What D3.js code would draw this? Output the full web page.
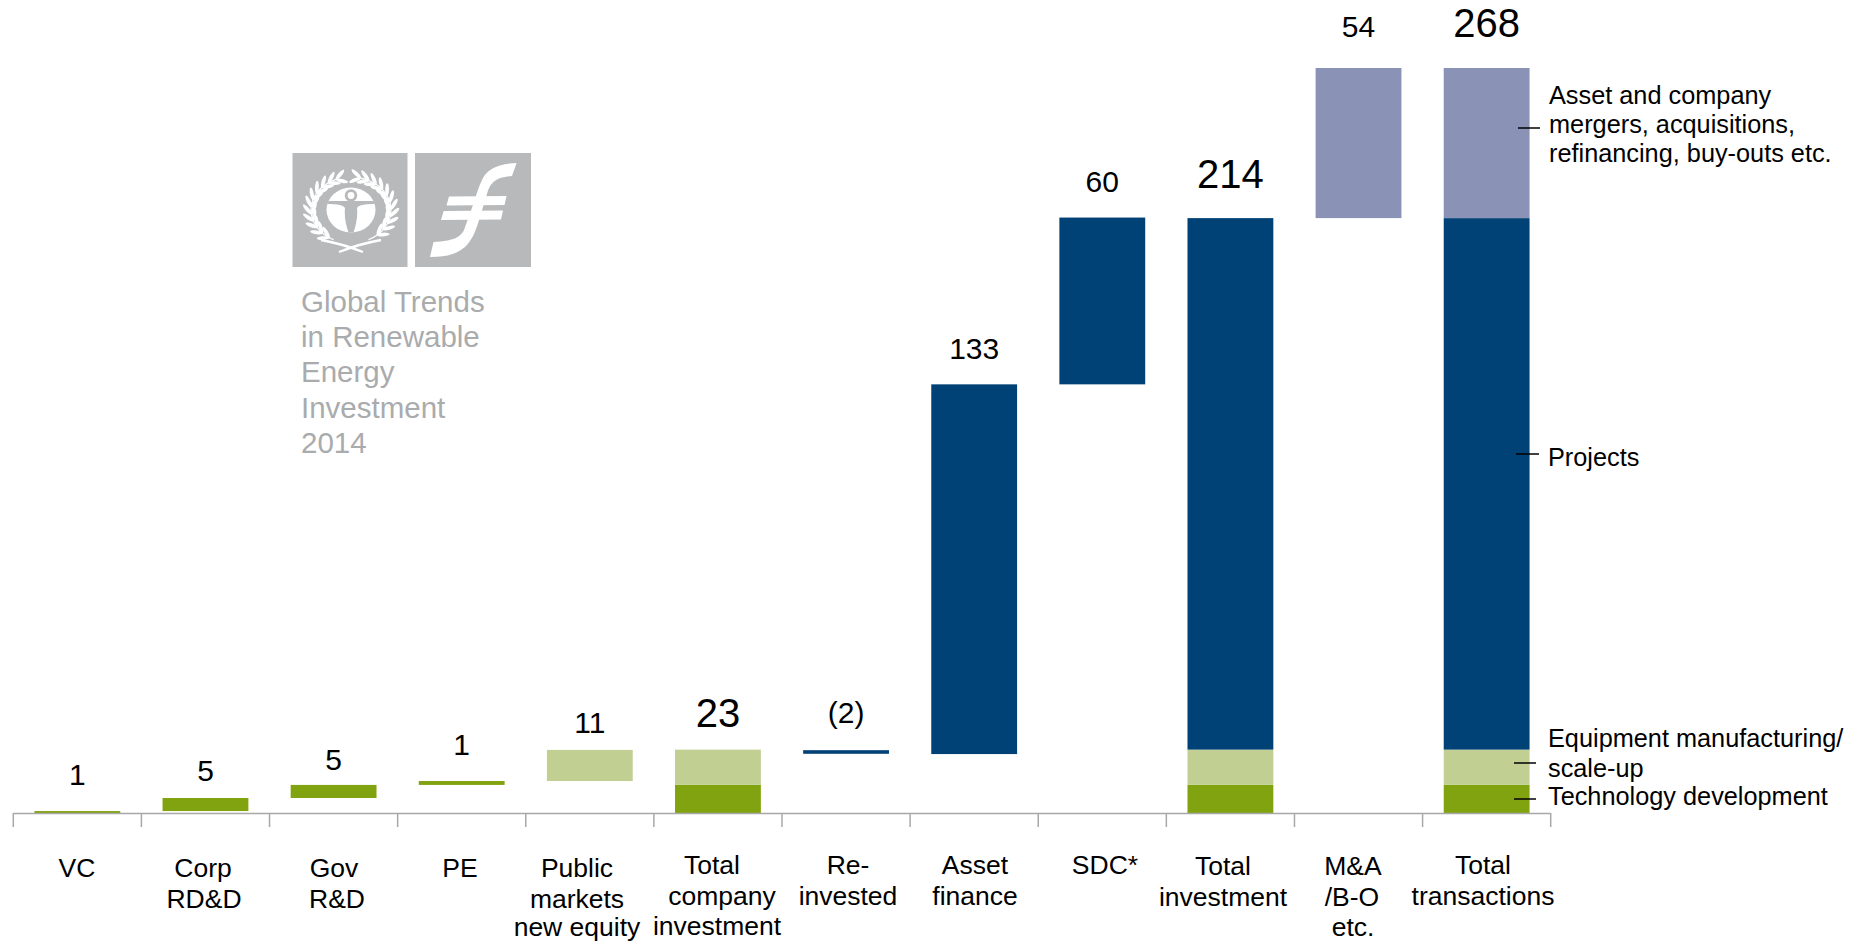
<!DOCTYPE html>
<html><head><meta charset="utf-8">
<script src="https://cdn.jsdelivr.net/npm/d3@7"></script>
<style>html,body{margin:0;padding:0;background:#fff;overflow:hidden}svg{display:block}text{font-family:"Liberation Sans",Arial,sans-serif;fill:#000}</style>
</head><body><svg id="c" width="1864" height="942"></svg>
<script>
const categories=["VC","Corp\nRD&D","Gov\nR&D","PE","Public\nmarkets\nnew equity","Total\ncompany\ninvestment","Re-\ninvested","Asset\nfinance","SDC*","Total\ninvestment","M&A\n/B-O\netc.","Total\ntransactions"];
const valueLabels=["1","5","5","1","11","23","(2)","133","60","214","54","268"];
const base=[0,0.7,5.4,10.1,11.5,0,21.3,21.2,154.2,0,214,0];
const techDev=[0.7,4.7,4.7,1.4,0,10.2,0,0,0,10.2,0,10.2];
const equipMfg=[0,0,0,0,11.2,12.6,0,0,0,12.6,0,12.6];
const projects=[0,0,0,0,0,0,1.3,133,60,191.2,0,191.2];
const mergers=[0,0,0,0,0,0,0,0,0,0,54,54];
const seriesNames=["base","tech","equip","proj","ma"];
const seriesColors={tech:"#82A310",equip:"#C2CF92",proj:"#004276",ma:"#8A93B5"};
const logoLines=["Global Trends","in Renewable","Energy","Investment","2014"];

// layout (pixels), separate from the data
const labelBaselines=[785,781,770,755,733,727,723,359,192,188,37,37];
const labelBig=[5,9,11];
const catLabelLayout=[
 {y:877,x:[77]},{y:877,x:[203,204]},{y:877,x:[334,337]},{y:877,x:[460]},
 {y:877,x:[577,577,577],third:936},{y:874,x:[712,722,717],third:935},{y:874,x:[848,848]},{y:874,x:[975,975]},
 {y:874,x:[1105]},{y:875,x:[1223,1223]},{y:875,x:[1353,1352,1353],third:936},{y:874,x:[1483,1483]}];
const notes=[
 {lines:["Asset and company","mergers, acquisitions,","refinancing, buy-outs etc."],x:1549,y:104,dy:29.2,lx:[1518,1540],ly:128},
 {lines:["Projects"],x:1548,y:466,dy:29,lx:[1516,1539],ly:454},
 {lines:["Equipment manufacturing/","scale-up"],x:1548,y:747,dy:30,lx:[1514,1536],ly:763},
 {lines:["Technology development"],x:1548,y:805,dy:29,lx:[1514,1536],ly:799}
];

const svg=d3.select("#c");
const x=d3.scaleBand().domain(d3.range(categories.length)).range([13.3,1550.7]).paddingInner(0.33).paddingOuter(0.165);
const y=d3.scaleLinear().domain([0,268]).range([813,68]);
const rows=categories.map((c,i)=>({i,base:base[i],tech:techDev[i],equip:equipMfg[i],proj:projects[i],ma:mergers[i]}));
const stacked=d3.stack().keys(seriesNames)(rows);
stacked.filter(s=>s.key!=="base").forEach(s=>{
  svg.append("g").selectAll("rect").data(s.filter(d=>d[1]>d[0])).join("rect")
    .attr("x",d=>x(d.data.i)).attr("width",x.bandwidth())
    .attr("y",d=>y(d[1])).attr("height",d=>y(d[0])-y(d[1])).attr("fill",seriesColors[s.key]);
});
// axis
const axisLine=svg.append("g").attr("stroke","#A8A8A8").attr("stroke-width",1.5);
axisLine.append("line").attr("x1",13.3).attr("x2",1550.7).attr("y1",813.5).attr("y2",813.5);
const step=x.step();
d3.range(categories.length+1).forEach(i=>{
  const tx=13.3+i*step;
  axisLine.append("line").attr("x1",tx).attr("x2",tx).attr("y1",813).attr("y2",827);
});
// value labels
valueLabels.forEach((t,i)=>{
  svg.append("text").attr("x",x(i)+x.bandwidth()/2).attr("y",labelBaselines[i]).attr("text-anchor","middle")
   .attr("font-size",labelBig.includes(i)?40:30).text(t);
});
// category labels
categories.forEach((c,i)=>{
  const t=svg.append("text").attr("text-anchor","middle").attr("font-size",26.5);
  const L=catLabelLayout[i];
  c.split("\n").forEach((l,k)=>t.append("tspan").attr("x",L.x[k]).attr("y",k===2?L.third:L.y+k*30.7).text(l));
});
// annotations
notes.forEach(n=>{
  svg.append("line").attr("x1",n.lx[0]).attr("x2",n.lx[1]).attr("y1",n.ly).attr("y2",n.ly).attr("stroke","#000").attr("stroke-width",1.5);
  const t=svg.append("text").attr("font-size",25.3);
  n.lines.forEach((l,k)=>t.append("tspan").attr("x",n.x).attr("y",n.y+k*n.dy).text(l));
});
// logo text
const lt=svg.append("text").attr("font-size",29.5).style("fill","#A9ABAD");
logoLines.forEach((l,k)=>lt.append("tspan").attr("x",301).attr("y",311.5+k*35.4).text(l));
// logo squares
const logoGrey="#B7B9BB";
svg.append("rect").attr("x",292.5).attr("y",153).attr("width",115).attr("height",114).attr("fill",logoGrey);
svg.append("rect").attr("x",415).attr("y",153).attr("width",116).attr("height",114).attr("fill",logoGrey);
// emblem
const em=svg.append("g").attr("transform","translate(351,210)");
em.append("clipPath").attr("id","disc").append("ellipse").attr("rx",24.5).attr("ry",22.5);
em.append("ellipse").attr("rx",24.5).attr("ry",22.5).attr("fill","#fff");
const fig=em.append("g").attr("clip-path","url(#disc)").attr("fill",logoGrey);
fig.append("circle").attr("cy",-14.5).attr("r",6.2);
fig.append("circle").attr("cy",-14.5).attr("r",3.4).attr("fill","#fff");
fig.append("path").attr("d","M-26,-9 L26,-9 L26,-6 C12,-6 8,-5 6,-2 C7,6 5,16 2,24 L-2,24 C-5,16 -7,6 -6,-2 C-8,-5 -12,-6 -26,-6 Z");
// wreath: stem with paired leaves
const rx=40,ry=33;
[-1,1].forEach(side=>{
  const start=side<0?22:14;
  const stemPts=d3.range(start,158,4).map(a=>{const r=a*Math.PI/180;return [side*rx*Math.sin(r),-ry*Math.cos(r)];});
  em.append("path").attr("d",d3.line()(stemPts)).attr("fill","none").attr("stroke","#fff").attr("stroke-width",1.2);
  d3.range(start,150,12.5).forEach(a=>{
    const r=a*Math.PI/180;
    const px=side*rx*Math.sin(r),py=-ry*Math.cos(r);
    const tan=Math.atan2(ry*Math.sin(r),side*rx*Math.cos(r))*180/Math.PI;
    [-32,32].forEach(off=>{
      em.append("ellipse").attr("cx",0).attr("cy",0).attr("rx",6.4).attr("ry",1.9).attr("fill","#fff")
        .attr("transform",`translate(${px},${py}) rotate(${tan+180+off}) translate(6,0)`);
    });
  });
});
em.append("path").attr("d","M-30,30 Q-8,34 12,42 M30,30 Q8,34 -12,42").attr("stroke","#fff").attr("stroke-width",2.4).attr("fill","none");
// franc glyph
const fg=svg.append("g").attr("fill","#fff");
fg.append("path").attr("d","M516.6,163 C498,164 487,169 482,180 C478,188 476,196 473,205 L464,230 C460,238 452,241 433.5,242 L430,257 C447,257 458,254 467,245 C473,238 476,230 479,220 L487,194 C490,183 495,177 512,176 Z");
fg.append("path").attr("d","M449,196.5 L506.5,196 L504.5,205 L446.5,205.5 Z M443.7,211 L503,210.5 L501,219.5 L441,220 Z");
</script></body></html>
